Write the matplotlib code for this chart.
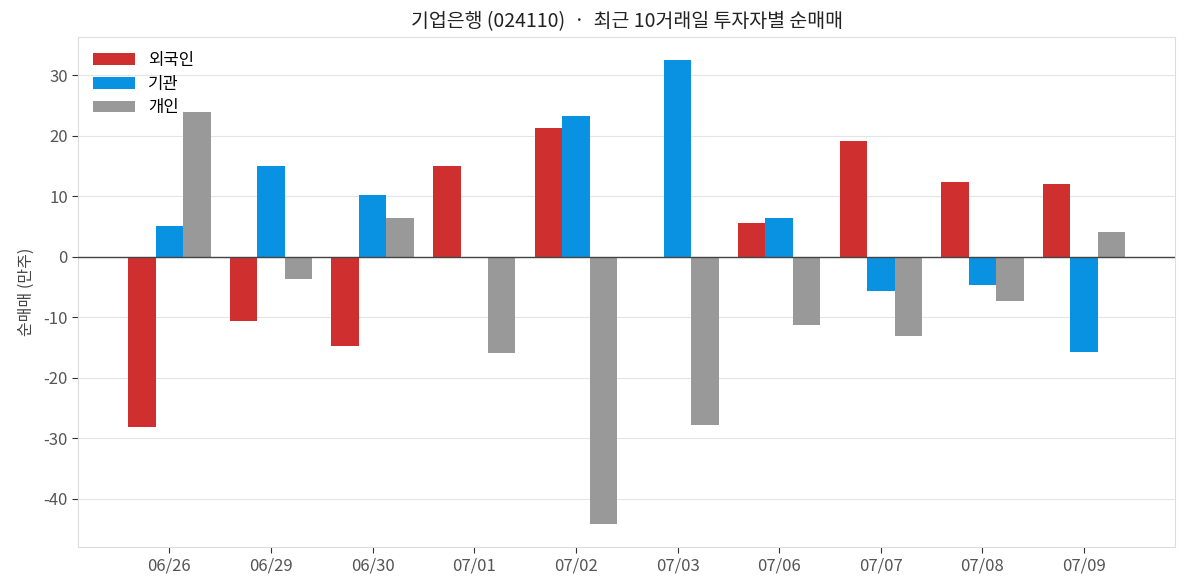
import numpy as np
import matplotlib
matplotlib.use("Agg")
import matplotlib.pyplot as plt

plt.rcParams['font.family'] = ['Noto Sans CJK KR', 'DejaVu Sans']
plt.rcParams['axes.unicode_minus'] = False

# 최근 10거래일 순매매 (만주)
dates = ["06/26", "06/29", "06/30", "07/01", "07/02", "07/03", "07/06", "07/07", "07/08", "07/09"]
foreign = [-28.1, -10.7, -14.8, 15.0, 21.3, 0.0, 5.5, 19.1, 12.3, 12.0]
institution = [5.0, 15.0, 10.2, -0.2, 23.3, 32.5, 6.35, -5.7, -4.7, -15.8]
individual = [23.9, -3.7, 6.35, -16.0, -44.2, -27.8, -11.3, -13.2, -7.4, 4.0]

x = np.arange(len(dates))
w = 0.27

fig, ax = plt.subplots(figsize=(11.87, 5.87), dpi=100)
fig.subplots_adjust(left=0.066, right=0.99, top=0.937, bottom=0.068)

ax.bar(x - w, foreign, w, color="#d02f2f", label="외국인", zorder=3)
ax.bar(x, institution, w, color="#0892e1", label="기관", zorder=3)
ax.bar(x + w, individual, w, color="#999999", label="개인", zorder=3)

ax.axhline(0, color="#444444", linewidth=1, zorder=4)
ax.grid(axis="y", color="#e5e5e5", linewidth=0.8, zorder=0)
ax.set_axisbelow(True)

ax.set_xticks(x)
ax.set_xticklabels(dates)
ax.tick_params(axis="both", labelsize=12, labelcolor="#555555", color="#333333", length=4)
for s in ax.spines.values():
    s.set_color("#dddddd")

ax.set_ylabel("순매매 (만주)", fontsize=11.5, color="#444444", labelpad=6)
ax.set_title("기업은행 (024110)  ·  최근 10거래일 투자자별 순매매", fontsize=14, color="#222222", pad=7)

ax.legend(loc="upper left", frameon=False, fontsize=12, handlelength=2.5, handleheight=0.7,
          labelspacing=0.4)

plt.savefig("out.png", dpi=100)
